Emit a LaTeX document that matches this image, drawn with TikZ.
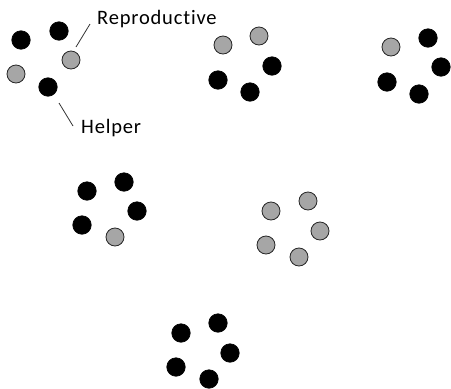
\documentclass[tikz,border=0pt]{standalone}
\usepackage{fontspec}
\setmainfont{Carlito}[Ligatures=NoCommon,LetterSpace=4]
\begin{document}
\begin{tikzpicture}[x=1pt,y=-1pt,
  helper/.style={circle,fill=black,draw=black,line width=0.6pt,minimum size=18.5pt,inner sep=0pt},
  repro/.style={circle,fill=gray!70,draw=black!85,line width=0.8pt,minimum size=18pt,inner sep=0pt},
  lbl/.style={font=\fontsize{20.5}{24}\selectfont,inner sep=0pt},
  lead/.style={line width=0.8pt,draw=black!80}]
\useasboundingbox (0,0) rectangle (451,389);
% group 1
\node[helper] (a1) at (21,40) {};
\node[helper] (a2) at (59,31) {};
\node[repro] (a3) at (71,60) {};
\node[repro] (a4) at (16,74) {};
\node[helper] (a5) at (48,87) {};
% group 2
\node[repro] (b1) at (223,45) {};
\node[repro] (b2) at (259,36) {};
\node[helper] (b3) at (272,66) {};
\node[helper] (b4) at (218,80) {};
\node[helper] (b5) at (250,92) {};
% group 3
\node[repro] (c1) at (391,47) {};
\node[helper] (c2) at (428,38) {};
\node[helper] (c3) at (441,67) {};
\node[helper] (c4) at (387,82) {};
\node[helper] (c5) at (419,94) {};
% group 4
\node[helper] (d1) at (87,191) {};
\node[helper] (d2) at (124,182) {};
\node[helper] (d3) at (137,211) {};
\node[helper] (d4) at (82,225) {};
\node[repro] (d5) at (115,237) {};
% group 5
\node[repro] (e1) at (271,211) {};
\node[repro] (e2) at (308,201) {};
\node[repro] (e3) at (320,231) {};
\node[repro] (e4) at (266,245) {};
\node[repro] (e5) at (299,257) {};
% group 6
\node[helper] (f1) at (181,333) {};
\node[helper] (f2) at (218,323) {};
\node[helper] (f3) at (230,353) {};
\node[helper] (f4) at (176,367) {};
\node[helper] (f5) at (209,379) {};
% labels
\node[lbl,anchor=west] (rlab) at (97,19) {Reproductive};
\node[lbl,anchor=west] (hlab) at (81,128) {Helper};
\coordinate (r0) at (76,47);
\coordinate (r1) at (90,24);
\coordinate (h0) at (59,103);
\coordinate (h1) at (73,126);
\draw[lead] (r0) -- (r1);
\draw[lead] (h0) -- (h1);
\end{tikzpicture}
\end{document}
